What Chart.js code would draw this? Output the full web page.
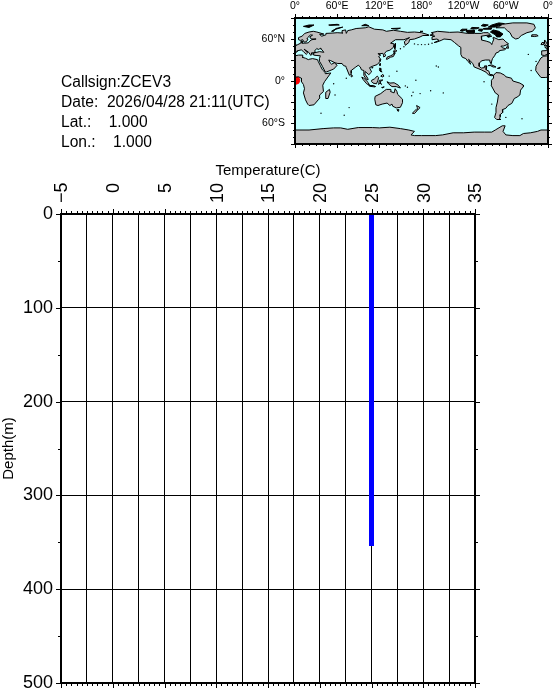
<!DOCTYPE html>
<html>
<head>
<meta charset="utf-8">
<script src="https://cdn.jsdelivr.net/npm/chart.js@4/dist/chart.umd.min.js"></script>
<style>
  body { margin: 0; background: #fff; width: 553px; height: 690px; overflow: hidden; position: relative; }
  canvas { position: absolute; left: 0; top: 0; }
  .info { position: absolute; left: 61px; font: 15.6px "Liberation Sans", sans-serif; color: #000; white-space: pre; line-height: 18px; }
</style>
</head>
<body>
<canvas id="profile" width="553" height="690"></canvas>
<canvas id="map" width="553" height="152"></canvas>
<div class="info" style="top:73px">Callsign:ZCEV3</div>
<div class="info" style="top:93px">Date:  2026/04/28 21:11(UTC)</div>
<div class="info" style="top:113px">Lat.:    1.000</div>
<div class="info" style="top:133px">Lon.:    1.000</div>
<script>
// temperature profile
const depths = [0, 50, 100, 150, 200, 250, 300, 354]
const temps = [25, 25, 25, 25, 25, 25, 25, 25]

// float position
const floatLon = [1]
const floatLat = [1]

const lonTickLabels = { 0: '0°', 60: '60°E', 120: '120°E', 180: '180°', 240: '120°W', 300: '60°W', 360: '0°' }
const latTickLabels = { 60: '60°N', 0: '0°', '-60': '60°S' }

// coastlines, [lon, lat], lon runs 0..360
const eurasia = [[0,50],[4,52],[8,54],[8.5,57],[10.5,57],[10,54],[14,54],[19,54.5],[21,57],[24,59],[30,60],[23,60],[21,63],[25,65.5],[22,65.8],[18,62],[17,60],[18.5,59.5],[16,56],[13,55.5],[11,59],[8,58],[5,59],[5,62],[10,64],[14,68],[20,70],[26,71],[31,70],[41,67],[35,66.5],[38,64],[44,66],[44,68],[54,68.5],[60,69],[68,68.5],[67,72],[72,73],[73,68],[75,72],[80,73],[87,75],[100,76],[105,77.5],[113,74],[125,73],[130,71],[140,72.5],[150,71],[160,69.5],[170,70],[180,69],[190,66],[190,65],[182,65],[178,63],[170,60],[163,59],[162,55],[157,51],[155.5,56],[160,60],[163,62],[155,59],[143,59],[136,54],[141,53],[140,48],[135,44],[130,42.5],[127.5,39.5],[129,36],[126.5,34.5],[126,37],[125,39.5],[121,39],[118,39],[122,37],[119,35],[122,31],[121,28],[117,23.5],[110,21],[106,19],[109,13],[105,9],[100,13.5],[99.5,10],[103.5,4],[104,1.5],[101,3],[98,8],[98,15],[94.5,16],[93,20],[90,22.5],[86.5,20],[80,15],[80,11],[77.5,8],[73,19],[72.5,21],[69,22],[67,25],[61,25],[57,26],[51,29],[48,30],[50,26],[52,24],[56,26],[60,22.5],[55,17],[45,13],[43,13],[39,21],[35,28],[34.5,28],[35,32],[36,36],[30,36.5],[27,37],[26.5,40],[35,42],[41,41],[38,45],[37,47],[35,46],[33,45],[31,46.5],[28,43],[29,41],[26,40.5],[23,40],[24,38],[22.5,36.5],[19.5,41],[13,45.5],[18,40],[16,38],[12,42],[9,44.5],[3,43],[3,42],[0,39.5]]
const iberia = [[360,39],[360,38.5],[355,36.5],[351,37],[351,43],[358,43.5],[359,46],[355.5,48],[360,49.5]]
const caspian = [[47,45],[53,46],[53,40],[54,37],[50,37],[49,41]]
const africaEast = [[0,5.5],[5,6],[9,4],[9.5,1],[9,-1],[12,-5],[13.5,-11],[12,-17],[15,-27],[18,-33],[20,-35],[27,-34],[33,-27],[35.5,-24],[35,-20],[40.5,-15],[39.5,-6],[42,-1],[51,11.5],[44,10.5],[43,12],[39,16],[36,22],[33,28],[32,30.5],[25,32],[20,31],[19,30.5],[15,32.5],[10,34],[11,37],[5,37],[0,36]]
const africaWest = [[360,36],[354,35.5],[350,33],[347,28],[343,21],[342.5,15],[346,10],[350,5],[356,5],[360,5.5]]
const northAmerica = [[192,65.5],[197,67],[194,69],[203,71],[220,69.5],[232,70],[245,68],[255,68],[265,68],[268,69],[275,69],[278,66],[265,64],[266,60],[265,58.5],[272,57],[278,55],[280,52],[281,55],[283,60],[282,62.5],[290,59],[296,60],[300,56],[304,53],[297,50],[293,49.8],[295,47.5],[300,46],[298,44.5],[291,43.5],[290,41.5],[286,40],[284,36],[281,32],[279.5,27],[279,25],[277.5,27],[277,30],[271,30],[266,29],[262.5,26],[262,21],[265,18.5],[269,19],[269.5,21.5],[273,21.5],[272,16],[276,14],[277,9.5],[281,9],[282.5,8],[279,7.5],[275,9],[272,12.5],[265,16],[255,20],[253,25],[247,31],[250,24],[246,28],[243,32],[238,34],[236,38],[236,48],[233,50],[227,55],[222,59],[212,60],[208,58],[200,55],[198,55],[205,58],[202,60],[195,59],[195,63],[199,64]]
const southAmerica = [[282.5,8],[286,12],[292,11.5],[298,8.5],[300,6],[308,4],[310,0],[320,-3],[325,-6],[325,-8],[321,-13],[320,-20],[316,-23],[312,-25],[308.5,-32],[303,-35],[300,-39],[295,-41],[295.5,-45],[292,-48],[292,-51],[291,-54],[293,-55],[287,-55],[284,-52],[286,-45],[286,-38],[288,-30],[289.5,-20],[285,-17],[279,-6],[279,-3],[280,1],[282,4]]
const australia = [[114,-22],[113.5,-26],[115,-34],[118,-35],[124,-33],[131,-31.5],[135,-35],[138,-33],[139,-36],[144,-38.5],[150,-37.5],[153,-31],[153,-26],[146,-19],[145,-15],[142.5,-11],[141,-17],[136,-15],[136.5,-12],[130,-12],[127,-14],[122,-18]]
const antarctica = [[0,-70],[20,-70],[40,-68],[55,-67],[65,-67],[75,-69],[90,-66.5],[110,-66.5],[120,-67],[135,-66],[150,-68],[162,-70],[170,-72],[165,-77],[170,-78],[180,-78],[200,-78],[210,-77],[225,-74],[240,-74],[255,-73],[270,-73],[280,-73],[285,-70],[295,-64],[299,-64],[296,-72],[300,-77],[310,-78],[320,-78],[325,-75],[335,-74],[345,-72],[350,-70],[360,-70],[360,-90],[0,-90]]
const greenland = [[286,76],[291,78],[295,81],[310,83],[330,83],[340,81],[342,76],[338,71],[330,69],[322,65],[318,61],[314,60],[309,63],[306,69],[302,72],[298,76]]
const arcticIslands = [
  [[282,73],[290,71],[296,67],[292,63],[287,63],[285,66],[278,70]],
  [[243,72],[255,73],[255,69],[245,69]],
  [[275,77],[280,80],[290,83],[298,82],[285,77]],
  [[235,72],[238,74],[245,74],[238,71]],
  [[268,75],[280,76],[279,74],[268,74]],
  [[265,79],[268,81],[275,80],[270,78]],
  [[250,75],[252,76.5],[262,76],[258,74.5]],
  [[262,74],[267,74],[266,71],[261,72]],
  [[273,64],[276,65],[280,64],[275,62.5]],
  [[12,78],[20,80],[27,80],[20,76.5]],
  [[52,71],[55,73],[68,77],[58,75],[55,71]],
  [[48,80],[60,81],[63,80],[50,79.5]],
  [[95,79],[105,79],[100,81]],
  [[137,75],[150,75.5],[145,74]],
  [[178,71],[182,71],[180,70.5]]
]
const otherIslands = [
  [[300.5,47],[304,47],[303.5,49.5],[303,51]],
  [[275,22],[280,23],[286,20],[282,20],[278,22]],
  [[288,18],[292,19.8],[291.5,18],[289,17.8]],
  [[336,64],[337,66],[344,66],[346,64.5],[341,63.5]],
  [[354.5,50],[360,51],[358,54],[356,58],[355,58],[355,54],[356,52]],
  [[0,51],[1.5,52],[0,54]],
  [[350,52],[354,52],[354,55],[351.5,55]],
  [[142,46],[143,50],[143,54],[142,52]],
  [[130,31],[131,34],[136,36],[140,38],[141,41],[142,39],[140,35],[136,34],[131,31]],
  [[140,42],[142,45],[145,43],[143,42]],
  [[120,23],[121.5,25],[121,22]],
  [[109,19],[111,20],[110,18.2]],
  [[120,16],[120.5,18.5],[122,18],[122,14],[124,13],[121,14]],
  [[122,7],[125,9.5],[126.5,7],[125,5.7]],
  [[95,5.5],[98,4],[104,-2],[106,-6],[102,-4],[97,2]],
  [[105,-6.5],[111,-6.5],[114,-7.5],[114,-8.5],[106,-7.5]],
  [[109,1],[113,3],[117,7],[119,5],[118,1],[116,-4],[111,-3],[109,-1]],
  [[119,-5],[120,1],[125,1.5],[121,-1],[123,-5],[121,-3]],
  [[131,-1],[135,-3],[141,-2.5],[147,-6],[150,-10],[144,-8],[138,-8],[133,-4]],
  [[124,-10],[127,-8.5],[125,-8.5]],
  [[145,-41],[148,-41],[147,-43.5]],
  [[173,-35],[178,-38],[175,-41],[174,-38]],
  [[172,-41],[174,-42],[170,-46.5],[167,-46]],
  [[44,-16],[49,-12],[50,-16],[47,-25],[44,-25],[43.5,-21]],
  [[80,9.5],[82,7],[81,6],[79.8,7]]
]
const islandDots = [[170,53],[175,52],[180,52],[185,52],[190,52.5],[195,54],[150,46],[155,49],[204,20],[201,21.5],[166,-21],[168,-16],[160,-9],[157,-7],[178,-18],[172,1],[134,7],[145,14],[70,-49],[300,-52],[323,-54],[57,-20],[55,-4],[73,4],[37,-46],[77,-38],[332,38],[343,28],[336,15],[193,-14],[211,-17],[269,-1],[280,-33]]

const toXY = ring => ring.map(p => ({ x: p[0], y: p[1] }))

function landSet(ring, fillColor) {
  return {
    data: toXY(ring.concat([ring[0]])),
    showLine: true,
    fill: 'shape',
    backgroundColor: fillColor,
    borderColor: '#000',
    borderWidth: 1,
    pointRadius: 0,
    tension: 0
  }
}

const LAND = '#c0c0c0'
const OCEAN = '#c0ffff'

// ticks and frame, drawn off each chart's own scales
function framePlugin(majorX, majorY, majorLen, minorLen, frameWidth, outerTick) {
  return {
    id: 'frame',
    beforeDatasetsDraw(chart) {
      if (!outerTick) return
      const a = chart.chartArea
      chart.ctx.fillStyle = OCEAN
      chart.ctx.fillRect(a.left, a.top, a.right - a.left, a.bottom - a.top)
    },
    afterDraw(chart) {
      const { ctx, chartArea: a, scales } = chart
      ctx.save()
      ctx.strokeStyle = '#000'
      ctx.lineWidth = 1
      ctx.beginPath()
      scales.x.ticks.forEach(t => {
        const px = Math.round(scales.x.getPixelForValue(t.value)) + 0.5
        const len = t.value % majorX === 0 ? majorLen : minorLen
        ctx.moveTo(px, a.top); ctx.lineTo(px, a.top - len)
        ctx.moveTo(px, a.bottom); ctx.lineTo(px, a.bottom + len)
      })
      scales.y.ticks.forEach(t => {
        const py = Math.round(scales.y.getPixelForValue(t.value)) + 0.5
        const len = t.value % majorY === 0 ? majorLen : minorLen
        ctx.moveTo(a.left, py); ctx.lineTo(a.left - len, py)
        ctx.moveTo(a.right, py); ctx.lineTo(a.right + len, py)
      })
      ctx.stroke()
      ctx.lineWidth = frameWidth
      ctx.strokeRect(a.left, a.top, a.right - a.left, a.bottom - a.top)
      ctx.restore()
    }
  }
}

new Chart(document.getElementById('profile'), {
  type: 'scatter',
  data: {
    datasets: [{
      data: depths.map((d, i) => ({ x: temps[i], y: d })),
      showLine: true,
      borderColor: '#0000ff',
      borderWidth: 5,
      pointRadius: 0,
      borderCapStyle: 'butt'
    }]
  },
  options: {
    responsive: false,
    animation: false,
    layout: { padding: { top: 162, left: 0, right: 78, bottom: 7 } },
    plugins: { legend: { display: false }, tooltip: { enabled: false } },
    scales: {
      x: {
        type: 'linear',
        position: 'top',
        min: -5,
        max: 35,
        afterFit: s => { s.height = 52; s.paddingLeft = 0; s.paddingRight = 0 },
        border: { display: false },
        grid: {
          color: c => c.tick && c.tick.value % 2.5 === 0 ? '#000' : 'transparent',
          tickColor: 'transparent',
          tickLength: 5
        },
        title: { display: true, text: 'Temperature(C)', color: '#000', padding: 0, font: { family: 'Liberation Sans', size: 15 } },
        ticks: {
          stepSize: 0.5,
          autoSkip: false,
          minRotation: 90,
          maxRotation: 90,
          padding: 6,
          labelOffset: 23,
          color: '#000',
          font: { family: 'Liberation Sans', size: 18 },
          callback: v => v % 5 === 0 ? (v < 0 ? '\u2212' + (-v) : String(v).padStart(2, '\u2007')) : ''
        }
      },
      y: {
        type: 'linear',
        reverse: true,
        min: 0,
        max: 500,
        afterFit: s => { s.width = 61; s.paddingTop = 0; s.paddingBottom = 0 },
        border: { display: false },
        grid: {
          color: c => c.tick && c.tick.value % 100 === 0 ? '#000' : 'transparent',
          tickColor: 'transparent',
          tickLength: 5
        },
        title: { display: true, text: 'Depth(m)', color: '#000', padding: 0, font: { family: 'Liberation Sans', size: 15 } },
        ticks: {
          stepSize: 50,
          autoSkip: false,
          padding: 3,
          color: '#000',
          font: { family: 'Liberation Sans', size: 18 },
          callback: v => v % 100 === 0 ? String(v) : ''
        }
      }
    }
  },
  plugins: [framePlugin(5, 100, 5, 3, 2, false)]
})

new Chart(document.getElementById('map'), {
  type: 'scatter',
  data: {
    datasets: [
      landSet(eurasia, LAND), landSet(iberia, LAND), landSet(caspian, OCEAN),
      landSet(africaEast, LAND), landSet(africaWest, LAND),
      landSet(northAmerica, LAND), landSet(southAmerica, LAND),
      landSet(australia, LAND), landSet(antarctica, LAND), landSet(greenland, LAND),
      ...arcticIslands.map(r => landSet(r, '#000')),
      ...otherIslands.map(r => landSet(r, LAND)),
      { data: toXY(islandDots), pointRadius: 0.7, pointBackgroundColor: '#000', pointBorderWidth: 0 },
      {
        data: floatLon.map((lon, i) => ({ x: lon, y: floatLat[i] })),
        pointRadius: 4,
        pointBackgroundColor: '#ff0000',
        pointBorderColor: '#ff0000',
        pointBorderWidth: 1
      }
    ]
  },
  options: {
    responsive: false,
    animation: false,
    layout: { padding: { top: 0, left: 0, right: 5, bottom: 8 } },
    plugins: { legend: { display: false }, tooltip: { enabled: false } },
    scales: {
      x: {
        type: 'linear',
        position: 'top',
        min: 0,
        max: 360,
        afterFit: s => { s.height = 18; s.paddingLeft = 0; s.paddingRight = 0 },
        border: { display: false },
        grid: { drawOnChartArea: false, tickColor: 'transparent', tickLength: 4 },
        ticks: {
          stepSize: 10,
          autoSkip: false,
          maxRotation: 0,
          padding: 2,
          color: '#000',
          font: { family: 'Liberation Sans', size: 10.5 },
          callback: v => lonTickLabels[v] || ''
        }
      },
      y: {
        type: 'linear',
        min: -90,
        max: 90,
        afterFit: s => { s.width = 295; s.paddingTop = 0; s.paddingBottom = 0 },
        border: { display: false },
        grid: { drawOnChartArea: false, tickColor: 'transparent', tickLength: 4 },
        ticks: {
          stepSize: 10,
          autoSkip: false,
          padding: 6,
          color: '#000',
          font: { family: 'Liberation Sans', size: 10.5 },
          callback: v => latTickLabels[v] || ''
        }
      }
    }
  },
  plugins: [framePlugin(60, 30, 4, 2, 2, true)]
})
</script>
</body>
</html>
